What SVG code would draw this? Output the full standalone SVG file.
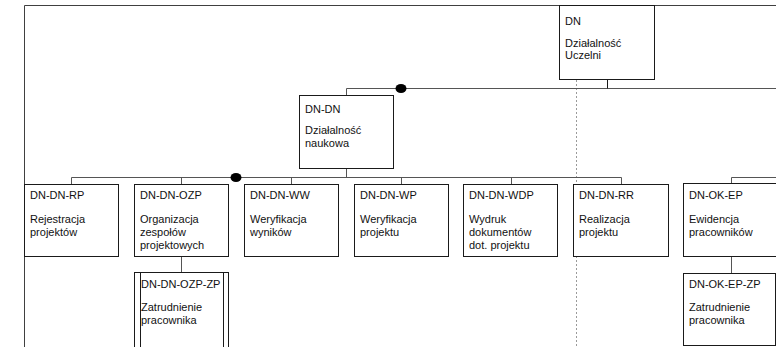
<svg xmlns="http://www.w3.org/2000/svg" width="776" height="347" viewBox="0 0 776 347">
  <style>
    .box { fill: #ffffff; stroke: #1a1a1a; stroke-width: 1; }
    .frame { fill: none; stroke: #404040; stroke-width: 1; }
    .conn { fill: none; stroke: #555555; stroke-width: 1; }
    .tick { fill: none; stroke: #1a1a1a; stroke-width: 1; }
    .guide { fill: none; stroke: #9a9a9a; stroke-width: 1; stroke-dasharray: 2 2; }
    .dot { fill: #000000; }
    text { font-family: "Liberation Sans", Arial, sans-serif; font-size: 11px; fill: #111111; }
  </style>

  <rect width="776" height="347" fill="#ffffff"/>

  <!-- outer drawing frame -->
  <path class="frame" d="M24.5,347 V5.5 H776"/>

  <!-- dotted guide line -->
  <path class="guide" d="M576.5,80 V347"/>

  <g id="connectors">
    <!-- level 1 bus -->
    <path class="conn" d="M346.5,95 V88.5 H776"/>
    <path class="tick" d="M607.5,80 V88.5"/>
    <ellipse class="dot" cx="401" cy="88.5" rx="5.5" ry="4.5"/>
    <!-- level 2 bus -->
    <path class="conn" d="M346.5,169 V177.5"/>
    <path class="conn" d="M71.5,184 V177.5 H621.5 V184"/>
    <path class="conn" d="M181.5,177.5 V184 M291.5,177.5 V184 M401.5,177.5 V184 M511.5,177.5 V184"/>
    <ellipse class="dot" cx="236" cy="177.5" rx="5.5" ry="4.5"/>
    <path class="conn" d="M731.5,183 V177.5 H776"/>
    <!-- level 3 -->
    <path class="conn" d="M181.5,257 V272"/>
    <path class="conn" d="M731.5,257 V273"/>
  </g>

  <g id="dn">
    <rect class="box" x="559.5" y="5.5" width="95" height="74"/>
    <text x="565" y="25">DN</text>
    <text x="565" y="47">Działalność</text>
    <text x="565" y="59">Uczelni</text>
  </g>

  <g id="dn-dn">
    <rect class="box" x="299.5" y="95.5" width="94" height="73"/>
    <text x="305" y="113">DN-DN</text>
    <text x="305" y="134">Działalność</text>
    <text x="305" y="147">naukowa</text>
  </g>

  <g id="dn-dn-rp">
    <rect class="box" x="24.5" y="184.5" width="94" height="72"/>
    <text x="30" y="199">DN-DN-RP</text>
    <text x="30" y="223">Rejestracja</text>
    <text x="30" y="236">projektów</text>
  </g>

  <g id="dn-dn-ozp">
    <rect class="box" x="134.5" y="184.5" width="94" height="72"/>
    <text x="140" y="199">DN-DN-OZP</text>
    <text x="140" y="223">Organizacja</text>
    <text x="140" y="236">zespołów</text>
    <text x="140" y="249">projektowych</text>
  </g>

  <g id="dn-dn-ww">
    <rect class="box" x="244.5" y="184.5" width="94" height="72"/>
    <text x="250" y="199">DN-DN-WW</text>
    <text x="250" y="223">Weryfikacja</text>
    <text x="250" y="236">wyników</text>
  </g>

  <g id="dn-dn-wp">
    <rect class="box" x="354.5" y="184.5" width="94" height="72"/>
    <text x="360" y="199">DN-DN-WP</text>
    <text x="360" y="223">Weryfikacja</text>
    <text x="360" y="236">projektu</text>
  </g>

  <g id="dn-dn-wdp">
    <rect class="box" x="463.5" y="184.5" width="94" height="72"/>
    <text x="469" y="199">DN-DN-WDP</text>
    <text x="469" y="223">Wydruk</text>
    <text x="469" y="236">dokumentów</text>
    <text x="469" y="249">dot. projektu</text>
  </g>

  <g id="dn-dn-rr">
    <rect class="box" x="573.5" y="184.5" width="95" height="72"/>
    <text x="579" y="199">DN-DN-RR</text>
    <text x="579" y="223">Realizacja</text>
    <text x="579" y="236">projektu</text>
  </g>

  <g id="dn-ok-ep">
    <rect class="box" x="683.5" y="183.5" width="96" height="73"/>
    <text x="689" y="199">DN-OK-EP</text>
    <text x="689" y="223">Ewidencja</text>
    <text x="689" y="236">pracowników</text>
  </g>

  <g id="dn-dn-ozp-zp">
    <rect class="box" x="134.5" y="272.5" width="94" height="80"/>
    <path class="tick" d="M140.5,272.5 V352 M223.5,272.5 V352"/>
    <text x="141" y="288">DN-DN-OZP-ZP</text>
    <text x="141" y="311">Zatrudnienie</text>
    <text x="141" y="324">pracownika</text>
  </g>

  <g id="dn-ok-ep-zp">
    <rect class="box" x="683.5" y="273.5" width="92" height="72"/>
    <text x="689" y="288">DN-OK-EP-ZP</text>
    <text x="689" y="311">Zatrudnienie</text>
    <text x="689" y="324">pracownika</text>
  </g>
</svg>
